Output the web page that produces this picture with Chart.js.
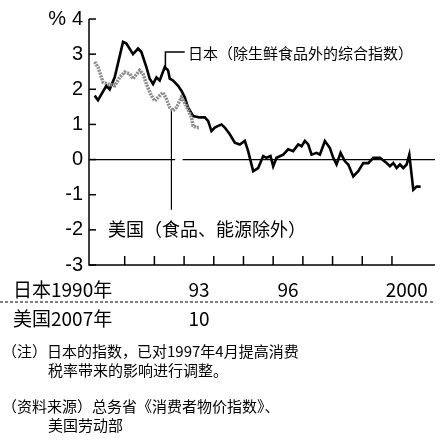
<!DOCTYPE html><html><head><meta charset="utf-8"><script src="https://cdn.jsdelivr.net/npm/chart.js@4"></script>
<style>html,body{margin:0;background:#fff}#w{width:440px;height:440px}</style></head><body><div id="w"><canvas id="c"></canvas></div>
<script>
const japanX=[285,295,320,330,345,370,380,400,415,425,440,450,460,470,480,495,505,510,520,535,545,555,565,580,600,615,625,635,645,655,665,675,690,705,720,735,745,760,775,790,800,812,820,830,850,865,880,895,905,915,925,935,950,960,975,990,1000,1010,1022,1035,1045,1060,1075,1090,1105,1120,1140,1160,1170,1180,1190,1200,1210,1220,1228,1240,1250,1262];
const japanY=[1.82,1.69,2.1,2.0,2.34,3.35,3.3,3.0,3.16,3.06,2.63,2.3,2.15,2.34,2.25,2.63,2.54,2.3,2.25,2.1,1.96,1.77,1.48,1.24,1.2,1.2,1.1,0.81,0.91,0.96,1.0,0.91,0.72,0.48,0.43,0.53,0.24,-0.33,-0.24,0.1,0.05,0.1,-0.19,0.05,0.14,0.29,0.24,0.43,0.38,0.53,0.43,0.14,0.19,0.14,0.53,0.33,0.05,-0.14,0.19,-0.05,-0.14,-0.48,-0.33,-0.1,-0.1,0.05,0.05,-0.1,-0.19,-0.1,-0.24,-0.14,-0.24,-0.14,0.14,-0.86,-0.77,-0.77];
const usX=[285,295,310,325,345,360,375,390,400,420,430,440,455,465,480,490,500,510,520,530,545,560,575,580,590,600];
const usY=[2.78,2.63,2.2,2.15,2.1,2.34,2.49,2.44,2.3,2.54,2.44,2.15,1.82,1.67,1.82,1.91,1.72,1.48,1.39,1.48,1.77,1.53,1.2,0.96,0.91,0.91];
const yTicks=[4,3,2,1,0,-1,-2,-3];
const xTickYears=[1991,1992,1993,1994,1995,1996,1997,1998,1999,2000];
const japanLabels=[[1993,'93'],[1996,'96'],[2000,'2000']];
const usLabels=[[1993,'10']];
const toYear=z=>(z-286)/89+1990;
const jp=japanX.map((z,i)=>({x:toYear(z),y:japanY[i]}));
const us=usX.map((z,i)=>({x:toYear(z),y:usY[i]}));
const F='"Noto Sans CJK SC",sans-serif';
const N='"Liberation Sans",sans-serif';
const deco={id:'deco',beforeDatasetsDraw(c){const g=c.ctx,x=c.scales.x,y=c.scales.y,a=c.chartArea;
 g.save();g.strokeStyle='#000';g.lineWidth=1.5;
 g.beginPath();g.moveTo(a.left,a.top);g.lineTo(a.left,a.bottom);g.lineTo(a.right,a.bottom);g.stroke();
 g.lineWidth=1.2;g.beginPath();g.moveTo(a.left,y.getPixelForValue(0));g.lineTo(x.getPixelForValue(1992.7),y.getPixelForValue(0));
 g.moveTo(x.getPixelForValue(1992.95),y.getPixelForValue(0));g.lineTo(a.right,y.getPixelForValue(0));g.stroke();
 g.lineWidth=1.5;g.fillStyle='#000';g.font='20px '+N;g.textAlign='right';g.textBaseline='middle';
 yTicks.forEach(t=>{const p=y.getPixelForValue(t);g.beginPath();g.moveTo(a.left,p);g.lineTo(a.left+7,p);g.stroke();g.fillText(String(t),83,p);});
 g.fillText('%',66,y.getPixelForValue(4));
 xTickYears.forEach(t=>{const p=x.getPixelForValue(t);g.beginPath();g.moveTo(p,a.bottom);g.lineTo(p,a.bottom-9);g.stroke();});
 g.lineWidth=1.2;const vx=x.getPixelForValue(toYear(515));
 g.beginPath();g.moveTo(vx,y.getPixelForValue(1.4));g.lineTo(vx,y.getPixelForValue(-1.43));g.stroke();
 const lx=x.getPixelForValue(toYear(497));g.lineWidth=1.5;
 g.beginPath();g.moveTo(lx,y.getPixelForValue(2.6));g.lineTo(lx,y.getPixelForValue(3.06));g.lineTo(x.getPixelForValue(toYear(555)),y.getPixelForValue(3.06));g.stroke();
 g.textAlign='left';g.font='15px '+F;g.fillText('日本（除生鲜食品外的综合指数）',188,53);
 g.font='18px '+F;g.fillText('美国（食品、能源除外）',108,229);
 g.font='19px '+F;g.fillText('日本1990年',13,290);g.fillText('美国2007年',13,319);
 g.textAlign='center';
 japanLabels.forEach(([yr,t])=>g.fillText(t,x.getPixelForValue(yr+0.5),290));
 usLabels.forEach(([yr,t])=>g.fillText(t,x.getPixelForValue(yr+0.5),319));
 g.setLineDash([3,2]);g.lineWidth=1;g.beginPath();g.moveTo(0,302);g.lineTo(435,302);g.stroke();g.setLineDash([]);
 g.textAlign='left';g.font='15px '+F;
 g.fillText('（注）日本的指数，已对1997年4月提高消费',2,351);
 g.fillText('税率带来的影响进行调整。',48,370);
 g.fillText('（资料来源）总务省《消费者物价指数》、',2,406);
 g.fillText('美国劳动部',48,425);
 g.restore();}};
new Chart(document.getElementById('c'),{type:'line',data:{datasets:[
 {data:us,borderColor:'#8a8a8a',borderWidth:3.5,borderDash:[2,1],pointRadius:0,tension:0},
 {data:jp,borderColor:'#000',borderWidth:2.6,pointRadius:0,tension:0}]},
 options:{responsive:true,maintainAspectRatio:false,animation:false,events:[],
 layout:{padding:{left:89,right:5,top:19,bottom:175}},
 plugins:{legend:{display:false},tooltip:{enabled:false}},
 scales:{x:{type:'linear',display:false,min:toYear(268),max:toYear(1305)},y:{display:false,min:-3,max:4}}},
 plugins:[deco]});
</script></body></html>
